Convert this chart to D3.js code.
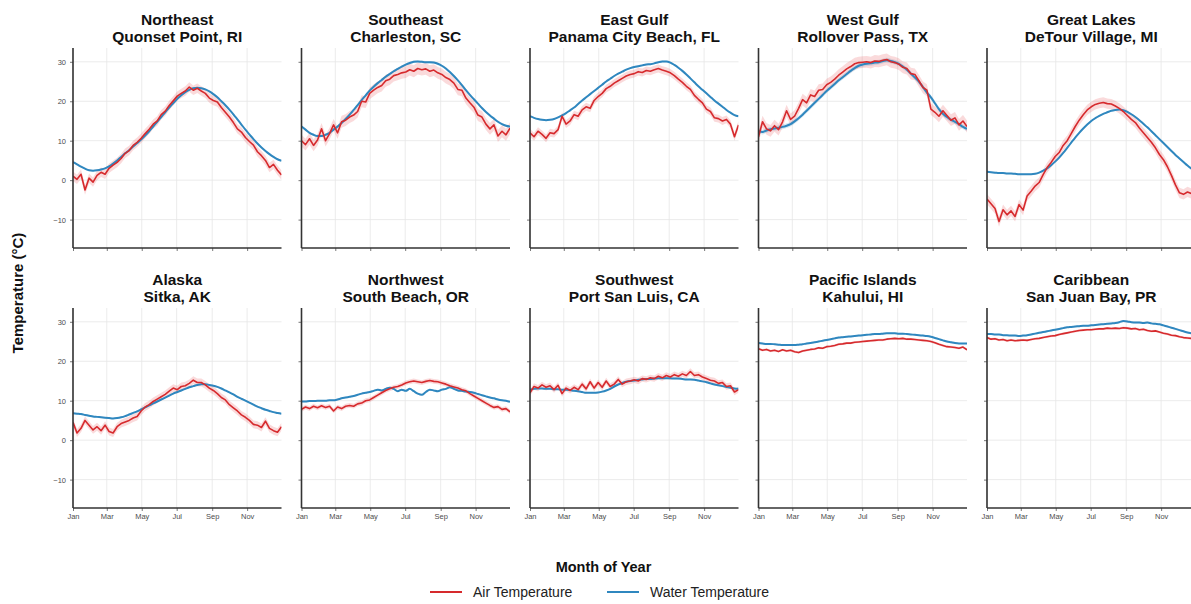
<!DOCTYPE html>
<html>
<head>
<meta charset="utf-8">
<script src="https://cdn.jsdelivr.net/npm/d3@7"></script>
<style>
  body { margin: 0; background: #fff; }
  svg { display: block; font-family: "Liberation Sans", Arial, Helvetica, sans-serif; }
</style>
</head>
<body>
<svg id="chart" width="1191" height="604"></svg>
<script>
// Day of year (0 = Jan 1) for each weekly sample
const days = [0,7,14,21,28,35,42,49,56,63,70,77,84,91,98,105,112,119,126,133,140,147,154,161,168,175,182,189,196,203,210,217,224,231,238,245,252,259,266,273,280,287,294,301,308,315,322,329,336,343,350,357,364];

// Month ticks on the x axis
const monthLabels = ["Jan","Mar","May","Jul","Sep","Nov"];
const monthDays = [0,59,120,181,243,304];

// Temperature ticks on the y axis
const tempTicks = [-10,0,10,20,30];
const tempTickLabels = ["\u221210","0","10","20","30"];

const regions = ["Northeast","Southeast","East Gulf","West Gulf","Great Lakes","Alaska","Northwest","Southwest","Pacific Islands","Caribbean"];
const sites = ["Quonset Point, RI","Charleston, SC","Panama City Beach, FL","Rollover Pass, TX","DeTour Village, MI","Sitka, AK","South Beach, OR","Port San Luis, CA","Kahului, HI","San Juan Bay, PR"];

// Mean daily air temperature (°C), weekly samples
const airNE = [1.0,0.2,1.5,-2.5,0.5,-0.5,1.2,2.0,1.5,3.0,3.8,4.5,5.5,6.8,7.5,8.8,9.6,10.6,11.8,12.9,14.2,15.0,16.6,17.5,18.9,20.1,21.3,22.0,22.6,23.6,22.8,23.3,22.6,22.0,20.8,20.2,19.8,18.4,17.2,16.0,14.6,13.0,12.2,10.8,9.8,8.9,7.2,6.2,5.0,3.2,4.0,2.5,1.3];
const airSE = [10.0,9.0,10.5,8.8,10.2,13.0,10.0,11.8,14.0,12.0,14.8,15.2,16.0,16.5,17.4,20.0,19.8,22.0,22.8,23.5,24.0,25.2,25.6,26.5,26.8,27.2,27.4,28.0,27.6,28.3,28.0,28.2,27.6,27.9,27.2,26.8,26.0,25.5,24.6,23.0,22.8,20.8,19.6,18.5,16.5,16.0,14.2,13.0,14.0,11.2,12.4,11.5,13.2];
const airEG = [12.0,11.0,12.4,11.6,10.6,12.0,11.8,12.8,16.2,14.2,15.0,16.6,16.2,17.8,18.6,18.2,20.2,21.2,22.0,23.2,23.8,24.6,25.2,25.8,26.4,26.8,27.0,27.5,27.3,27.8,27.6,28.0,28.3,27.9,27.6,27.2,26.5,25.6,24.8,23.8,23.0,21.5,20.5,19.6,18.0,17.4,15.8,15.6,15.0,15.4,14.2,11.0,14.0];
const airWG = [11.0,14.8,13.0,12.5,13.8,12.8,14.8,17.6,15.4,16.2,18.2,20.4,19.6,21.6,21.2,22.8,23.0,24.2,24.8,25.6,26.6,27.4,28.2,28.8,29.5,29.8,29.9,30.0,29.8,30.2,30.1,30.4,30.6,30.0,29.8,29.4,28.6,28.3,27.0,26.8,25.2,23.5,22.8,18.0,17.2,16.2,17.6,16.4,15.2,15.8,14.0,15.0,13.6];
const airGL = [-4.8,-6.0,-7.2,-10.5,-7.5,-8.8,-7.8,-9.2,-6.2,-7.6,-4.0,-2.8,-1.5,-0.6,1.4,3.2,4.5,6.0,7.0,8.8,10.0,11.8,13.6,15.2,16.6,17.8,18.6,19.2,19.5,19.7,19.4,19.3,18.8,18.2,17.4,16.4,15.4,14.6,13.2,12.0,10.8,9.6,8.2,6.5,5.2,3.4,1.2,-1.2,-3.2,-3.6,-3.0,-3.4,-2.8];
const airAK = [4.5,1.8,3.0,5.0,3.8,2.6,3.4,2.4,3.8,2.2,1.8,3.4,4.2,4.6,5.0,5.6,6.0,7.4,8.4,9.0,9.8,10.4,11.0,11.6,12.4,13.2,12.8,13.6,13.8,14.4,15.2,14.6,14.6,14.0,13.2,12.6,11.8,10.8,10.2,9.0,8.2,7.4,6.4,5.8,5.0,4.0,3.8,3.2,4.8,3.0,2.4,2.0,3.4];
const airNW = [7.8,8.4,8.0,8.6,8.2,8.7,8.3,8.6,7.4,8.4,8.0,8.6,8.8,8.6,9.2,9.4,10.0,10.2,10.8,11.4,12.0,12.6,13.0,13.4,13.6,14.0,14.5,14.8,15.0,14.8,14.6,14.9,15.1,14.9,14.8,14.5,14.2,13.8,13.5,13.2,12.8,12.5,11.8,11.2,10.6,10.0,9.4,8.8,8.3,8.5,7.8,8.0,7.2];
const airSW = [12.0,13.6,13.2,14.0,13.4,13.8,12.8,13.9,11.8,13.2,12.6,13.4,12.8,14.2,13.0,14.8,13.2,14.6,13.4,15.0,13.6,14.2,15.4,14.2,14.8,15.0,15.3,15.0,15.6,15.4,15.8,15.6,16.2,15.8,16.4,16.0,16.6,16.2,16.8,16.4,17.4,16.4,16.6,16.0,15.6,15.2,15.0,14.4,14.6,13.6,13.8,12.2,12.8];
const airHI = [23.2,22.8,23.0,22.6,22.8,22.5,22.9,22.6,22.8,22.4,22.2,22.6,22.8,23.0,23.1,23.4,23.3,23.7,23.8,24.0,24.3,24.4,24.6,24.6,24.8,24.9,25.0,25.1,25.2,25.3,25.4,25.4,25.6,25.7,25.8,25.7,25.8,25.6,25.6,25.5,25.4,25.3,25.2,25.0,24.7,24.3,24.0,23.7,23.6,23.5,23.3,23.6,22.9];
const airPR = [26.0,25.6,25.7,25.4,25.5,25.2,25.4,25.2,25.3,25.4,25.3,25.5,25.7,25.8,26.0,26.2,26.4,26.5,26.8,27.0,27.2,27.4,27.6,27.8,27.9,28.0,28.0,28.1,28.2,28.2,28.4,28.3,28.4,28.3,28.5,28.4,28.2,28.3,28.0,28.1,27.8,27.6,27.7,27.4,27.1,26.9,26.6,26.5,26.2,26.0,25.9,25.8,25.8];

// Mean daily water temperature (°C), weekly samples
const waterNE = [4.6,4.0,3.4,2.9,2.5,2.4,2.5,2.7,3.0,3.5,4.2,5.0,5.9,6.8,7.6,8.5,9.4,10.3,11.3,12.4,13.6,14.8,16.0,17.2,18.4,19.5,20.6,21.5,22.3,22.9,23.3,23.4,23.3,23.0,22.5,21.8,21.0,20.0,19.0,17.9,16.7,15.4,14.1,12.8,11.6,10.4,9.3,8.3,7.4,6.6,5.9,5.3,4.9];
const waterSE = [13.6,12.8,12.0,11.5,11.2,11.2,11.5,12.0,12.8,13.6,14.5,15.5,16.6,17.8,19.0,20.3,21.5,22.7,23.7,24.6,25.4,26.2,26.9,27.6,28.2,28.8,29.3,29.7,30.0,30.1,30.0,29.9,29.9,29.8,29.5,29.0,28.3,27.4,26.4,25.3,24.1,22.8,21.6,20.5,19.4,18.3,17.3,16.4,15.6,14.8,14.2,13.8,13.6];
const waterEG = [16.2,15.8,15.5,15.3,15.2,15.3,15.5,15.9,16.4,17.0,17.7,18.4,19.3,20.2,21.0,21.8,22.6,23.4,24.2,25.0,25.7,26.4,27.0,27.5,28.0,28.4,28.7,28.9,29.1,29.3,29.4,29.6,29.9,30.1,30.1,29.8,29.2,28.5,27.7,26.8,25.8,24.8,23.8,22.9,22.0,21.1,20.2,19.4,18.6,17.8,17.1,16.5,16.2];
const waterWG = [12.5,12.2,12.6,12.9,13.1,13.3,13.5,13.8,14.2,14.9,15.7,16.6,17.6,18.6,19.6,20.6,21.6,22.6,23.5,24.4,25.3,26.1,26.9,27.7,28.4,29.0,29.3,29.5,29.6,29.8,29.9,30.2,30.4,30.2,29.9,29.5,28.8,28.0,27.0,26.0,25.0,23.6,22.2,21.0,19.5,18.0,16.8,16.0,15.3,14.8,14.2,13.5,13.0];
const waterGL = [2.1,2.0,1.9,1.8,1.8,1.7,1.7,1.6,1.5,1.5,1.5,1.5,1.6,1.9,2.4,3.0,3.8,4.7,5.7,6.9,8.2,9.5,10.8,12.0,13.1,14.1,15.0,15.7,16.3,16.8,17.2,17.6,17.8,17.9,17.7,17.3,16.7,16.0,15.2,14.3,13.4,12.4,11.4,10.4,9.4,8.4,7.4,6.4,5.5,4.6,3.7,2.9,2.2];
const waterAK = [6.8,6.7,6.6,6.4,6.2,6.0,5.9,5.8,5.7,5.6,5.5,5.6,5.8,6.1,6.5,6.9,7.3,7.8,8.3,8.8,9.3,9.8,10.3,10.8,11.3,11.8,12.2,12.6,13.0,13.4,13.7,14.0,14.2,14.2,14.0,13.8,13.5,13.1,12.6,12.1,11.6,11.0,10.5,10.0,9.5,9.0,8.5,8.1,7.7,7.4,7.1,6.9,6.7];
const waterNW = [9.8,9.8,9.9,9.9,10.0,10.0,10.0,10.1,10.1,10.3,10.6,10.8,11.0,11.2,11.5,11.8,12.0,12.2,12.5,12.8,12.6,13.0,13.3,13.0,12.4,12.8,12.5,13.0,12.4,11.8,11.5,12.2,12.8,12.6,12.4,12.8,13.0,13.4,13.0,12.6,12.5,12.3,12.2,12.0,11.7,11.4,11.1,10.8,10.6,10.3,10.1,10.0,9.7];
const waterSW = [12.8,13.0,13.1,13.1,13.0,13.0,12.9,12.9,12.8,12.8,12.7,12.5,12.4,12.2,12.0,12.0,12.0,12.1,12.3,12.6,13.0,13.6,14.1,14.5,14.8,15.0,15.1,15.3,15.4,15.5,15.5,15.6,15.7,15.7,15.7,15.7,15.6,15.6,15.5,15.4,15.4,15.3,15.1,14.9,14.7,14.4,14.1,13.9,13.7,13.5,13.3,13.1,13.0];
const waterHI = [24.6,24.5,24.4,24.4,24.3,24.2,24.1,24.1,24.1,24.1,24.2,24.3,24.5,24.6,24.8,25.0,25.2,25.4,25.6,25.8,26.0,26.1,26.2,26.3,26.4,26.5,26.6,26.7,26.8,26.9,26.9,27.0,27.1,27.1,27.1,27.0,27.0,26.9,26.8,26.7,26.6,26.5,26.4,26.2,25.9,25.6,25.3,25.0,24.8,24.6,24.5,24.5,24.5];
const waterPR = [26.9,26.9,26.8,26.8,26.6,26.6,26.5,26.5,26.4,26.5,26.6,26.8,27.0,27.2,27.4,27.6,27.8,28.0,28.2,28.4,28.6,28.7,28.8,28.9,29.0,29.0,29.1,29.2,29.3,29.4,29.5,29.6,29.7,29.9,30.2,30.1,29.9,29.8,29.8,29.7,29.8,29.6,29.5,29.4,29.1,28.8,28.5,28.2,27.9,27.6,27.3,27.1,26.9];

// Half-width (°C) of the shaded band around each daily mean
const airSpread = [1.2,1.5,1.0,1.5,1.3,1.0,0.6,0.8,0.3,0.3];
const waterSpread = [0.2,0.3,0.2,0.6,0.2,0.2,0.2,0.2,0.2,0.2];

const airSeries = [airNE,airSE,airEG,airWG,airGL,airAK,airNW,airSW,airHI,airPR];
const waterSeries = [waterNE,waterSE,waterEG,waterWG,waterGL,waterAK,waterNW,waterSW,waterHI,waterPR];

const AIR_COLOR = "#d62a2d";
const WATER_COLOR = "#2f87bf";

const svg = d3.select("#chart");

// Panel geometry
const panelW = 208.5, panelH = 200;
const colX = [73, 301.5, 530, 758.5, 987];
const rowY = [48, 308];

const x = d3.scaleLinear().domain([0, 364]).range([0, panelW]);
const y = d3.scaleLinear().domain([-17.2, 33.5]).range([panelH, 0]);

const lineFor = d3.line().x((d, i) => x(days[i])).y(d => y(d));

regions.forEach((region, k) => {
  const col = k % 5, row = Math.floor(k / 5);
  const g = svg.append("g").attr("transform", `translate(${colX[col]},${rowY[row]})`);
  const air = airSeries[k], water = waterSeries[k];

  // grid
  g.append("g").selectAll("line.h").data(tempTicks).join("line")
    .attr("x1", 0).attr("x2", panelW)
    .attr("y1", d => y(d)).attr("y2", d => y(d))
    .attr("stroke", "#e6e6e6").attr("stroke-width", 0.8);
  g.append("g").selectAll("line.v").data(monthDays).join("line")
    .attr("x1", d => x(d)).attr("x2", d => x(d))
    .attr("y1", 0).attr("y2", panelH)
    .attr("stroke", "#e6e6e6").attr("stroke-width", 0.8);

  const clipId = "clip" + k;
  g.append("clipPath").attr("id", clipId).append("rect")
    .attr("x", 0).attr("y", 0).attr("width", panelW).attr("height", panelH);
  const plot = g.append("g").attr("clip-path", `url(#${clipId})`);

  // shaded bands
  const waterBand = d3.area()
    .x((d, i) => x(days[i]))
    .y0(d => y(d - waterSpread[k])).y1(d => y(d + waterSpread[k]))
    .curve(d3.curveMonotoneX);
  plot.append("path").datum(water).attr("d", waterBand)
    .attr("fill", WATER_COLOR).attr("fill-opacity", 0.18);

  const airBand = d3.area()
    .x((d, i) => x(days[i]))
    .y0(d => y(d - airSpread[k])).y1(d => y(d + airSpread[k]));
  plot.append("path").datum(air).attr("d", airBand)
    .attr("fill", "#e8585a").attr("fill-opacity", 0.22);

  // water temperature line
  plot.append("path").datum(water)
    .attr("d", lineFor.curve(d3.curveMonotoneX)(water))
    .attr("fill", "none").attr("stroke", WATER_COLOR).attr("stroke-width", 2);

  // air temperature line
  plot.append("path").datum(air)
    .attr("d", lineFor.curve(d3.curveLinear)(air))
    .attr("fill", "none").attr("stroke", AIR_COLOR).attr("stroke-width", 1.6)
    .attr("stroke-linejoin", "round");

  // axes
  const yAxis = d3.axisLeft(y).tickValues(tempTicks).tickSize(3).tickPadding(4)
    .tickFormat((d, i) => col === 0 ? tempTickLabels[i] : "");
  const ya = g.append("g").call(yAxis);
  const xAxis = d3.axisBottom(x).tickValues(monthDays).tickSize(3).tickPadding(3)
    .tickFormat((d, i) => row === 1 ? monthLabels[i] : "");
  const xa = g.append("g").attr("transform", `translate(0,${panelH})`).call(xAxis);
  [ya, xa].forEach(a => {
    a.select(".domain").remove();
    a.selectAll(".tick line").attr("stroke", "#555").attr("stroke-width", 0.8);
    a.selectAll(".tick text").attr("fill", "#4d4d4d").attr("font-size", 7.5)
      .attr("font-family", "\"Liberation Sans\", Arial, sans-serif");
  });
  g.append("line").attr("x1", 0).attr("x2", 0).attr("y1", 0).attr("y2", panelH)
    .attr("stroke", "#333").attr("stroke-width", 1.6);
  g.append("line").attr("x1", 0).attr("x2", panelW).attr("y1", panelH).attr("y2", panelH)
    .attr("stroke", "#333").attr("stroke-width", 1.6);

  // panel title
  const title = g.append("text").attr("text-anchor", "middle")
    .attr("font-weight", "bold").attr("font-size", 15.5).attr("fill", "#111");
  title.append("tspan").attr("x", panelW / 2).attr("y", -23).text(region);
  title.append("tspan").attr("x", panelW / 2).attr("y", -6.5).text(sites[k]);
});

// axis titles
svg.append("text").attr("transform", "translate(23,293) rotate(-90)")
  .attr("text-anchor", "middle").attr("font-weight", "bold").attr("font-size", 15)
  .attr("fill", "#111").text("Temperature (\u00B0C)");
svg.append("text").attr("x", 603.5).attr("y", 571.5)
  .attr("text-anchor", "middle").attr("font-weight", "bold").attr("font-size", 14.5)
  .attr("fill", "#111").text("Month of Year");

// legend
const legendItems = [
  { label: "Air Temperature", color: AIR_COLOR, x: 430 },
  { label: "Water Temperature", color: WATER_COLOR, x: 607 }
];
const lg = svg.append("g");
legendItems.forEach(it => {
  lg.append("line").attr("x1", it.x).attr("x2", it.x + 32)
    .attr("y1", 592).attr("y2", 592)
    .attr("stroke", it.color).attr("stroke-width", 2);
  lg.append("text").attr("x", it.x + 43).attr("y", 597)
    .attr("font-size", 14).attr("fill", "#222").text(it.label);
});
</script>
</body>
</html>
